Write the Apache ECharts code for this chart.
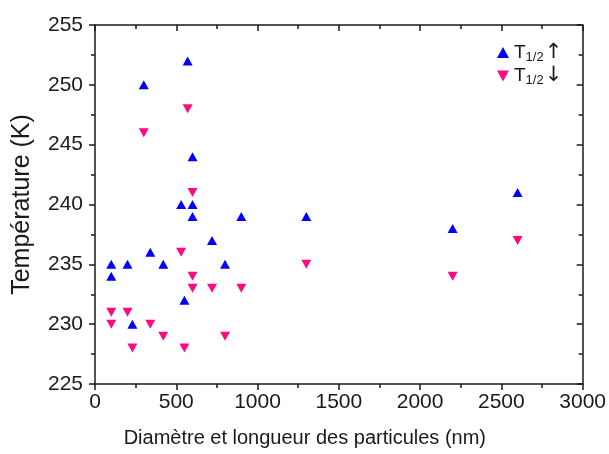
<!DOCTYPE html>
<html>
<head>
<meta charset="utf-8">
<script src="https://cdn.jsdelivr.net/npm/echarts@6/dist/echarts.min.js"></script>
<style>
  html, body { margin: 0; padding: 0; background: #fff; }
  #chart { width: 609px; height: 454px; }
</style>
</head>
<body>
<div id="chart"></div>
<script>
var chart = echarts.init(document.getElementById('chart'), null, { renderer: 'canvas' });

// T1/2 montée (triangles bleus)
var upX = [100, 100, 200, 230, 300, 340, 420, 530, 570, 600, 600, 600, 550, 720, 800, 900, 1300, 2200, 2600];
var upY = [235, 234, 235, 230, 250, 236, 235, 240, 252, 244, 240, 239, 232, 237, 235, 239, 239, 238, 241];

// T1/2 descente (triangles roses)
var downX = [100, 100, 200, 230, 300, 340, 420, 530, 570, 600, 600, 600, 550, 720, 800, 900, 1300, 2200, 2600];
var downY = [231, 230, 231, 228, 246, 230, 229, 236, 248, 241, 234, 233, 228, 233, 229, 233, 235, 234, 237];

var xTitle = 'Diamètre et longueur des particules (nm)';
var yTitle = 'Température (K)';

function pairs(xs, ys) {
    return xs.map(function (x, i) { return [x, ys[i]]; });
}

var font = 'Liberation Sans, Arial, sans-serif';
var axisCol = '#1a1a1a';

function plain(v) { return String(v); }

chart.setOption({
    animation: false,
    grid: { left: 95, right: 26, top: 25, bottom: 70, show: false },
    legend: {
        orient: 'vertical',
        left: 492,
        top: 37,
        itemGap: 2,
        itemWidth: 12,
        itemHeight: 11,
        data: ['up', 'down'],
        formatter: function (name) {
            return name === 'up' ? '{t|T}{s|1/2}{a|↑}' : '{t|T}{s|1/2}{a|↓}';
        },
        textStyle: {
            fontFamily: font,
            color: '#1a1a1a',
            rich: {
                t: { fontSize: 19, lineHeight: 22, fontFamily: font },
                s: { fontSize: 13, lineHeight: 22, verticalAlign: 'bottom', padding: [8, 1, 0, 0], fontFamily: font },
                a: { fontSize: 21, lineHeight: 22, fontFamily: 'DejaVu Sans, sans-serif' }
            }
        }
    },
    xAxis: [{
        type: 'value',
        min: 0, max: 3000, interval: 500,
        name: xTitle,
        nameLocation: 'middle',
        nameGap: 44,
        nameTextStyle: { fontFamily: font, fontSize: 20, color: '#1a1a1a', padding: [0, 68, 0, 0] },
        axisLine: { onZero: false, lineStyle: { color: axisCol, width: 1.5 } },
        axisTick: { inside: false, length: 6, lineStyle: { color: axisCol, width: 1.5 } },
        minorTick: { show: true, splitNumber: 2, length: 4, lineStyle: { color: axisCol, width: 1.5 } },
        axisLabel: { fontFamily: font, fontSize: 21, color: '#1a1a1a', margin: 8, formatter: plain },
        splitLine: { show: false }
    }, {
        type: 'value',
        position: 'top',
        min: 0, max: 3000, interval: 500,
        axisLine: { onZero: false, lineStyle: { color: axisCol, width: 1.5 } },
        axisTick: { inside: true, length: 6, lineStyle: { color: axisCol, width: 1.5 } },
        minorTick: { show: true, splitNumber: 2, length: 4, lineStyle: { color: axisCol, width: 1.5 } },
        axisLabel: { show: false },
        splitLine: { show: false }
    }],
    yAxis: [{
        type: 'value',
        min: 225, max: 255, interval: 5,
        name: yTitle,
        nameLocation: 'middle',
        nameGap: 60,
        nameTextStyle: { fontFamily: font, fontSize: 25, color: '#1a1a1a' },
        axisLine: { onZero: false, lineStyle: { color: axisCol, width: 1.5 } },
        axisTick: { inside: false, length: 6, lineStyle: { color: axisCol, width: 1.5 } },
        minorTick: { show: true, splitNumber: 2, length: 4, lineStyle: { color: axisCol, width: 1.5 } },
        axisLabel: { fontFamily: font, fontSize: 21, color: '#1a1a1a', margin: 12, formatter: plain },
        splitLine: { show: false }
    }, {
        type: 'value',
        position: 'right',
        min: 225, max: 255, interval: 5,
        axisLine: { onZero: false, lineStyle: { color: axisCol, width: 1.5 } },
        axisTick: { inside: true, length: 6, lineStyle: { color: axisCol, width: 1.5 } },
        minorTick: { show: true, splitNumber: 2, length: 4, lineStyle: { color: axisCol, width: 1.5 } },
        axisLabel: { show: false },
        splitLine: { show: false }
    }],
    series: [{
        name: 'up',
        type: 'scatter',
        symbol: 'triangle',
        symbolSize: [10, 9],
        itemStyle: { color: '#0000ff', opacity: 1 },
        data: pairs(upX, upY)
    }, {
        name: 'down',
        type: 'scatter',
        symbol: 'path://M0,0L20,0L10,18Z',
        symbolSize: [10, 9],
        itemStyle: { color: '#ff0a80', opacity: 1 },
        data: pairs(downX, downY)
    }]
});
</script>
</body>
</html>
